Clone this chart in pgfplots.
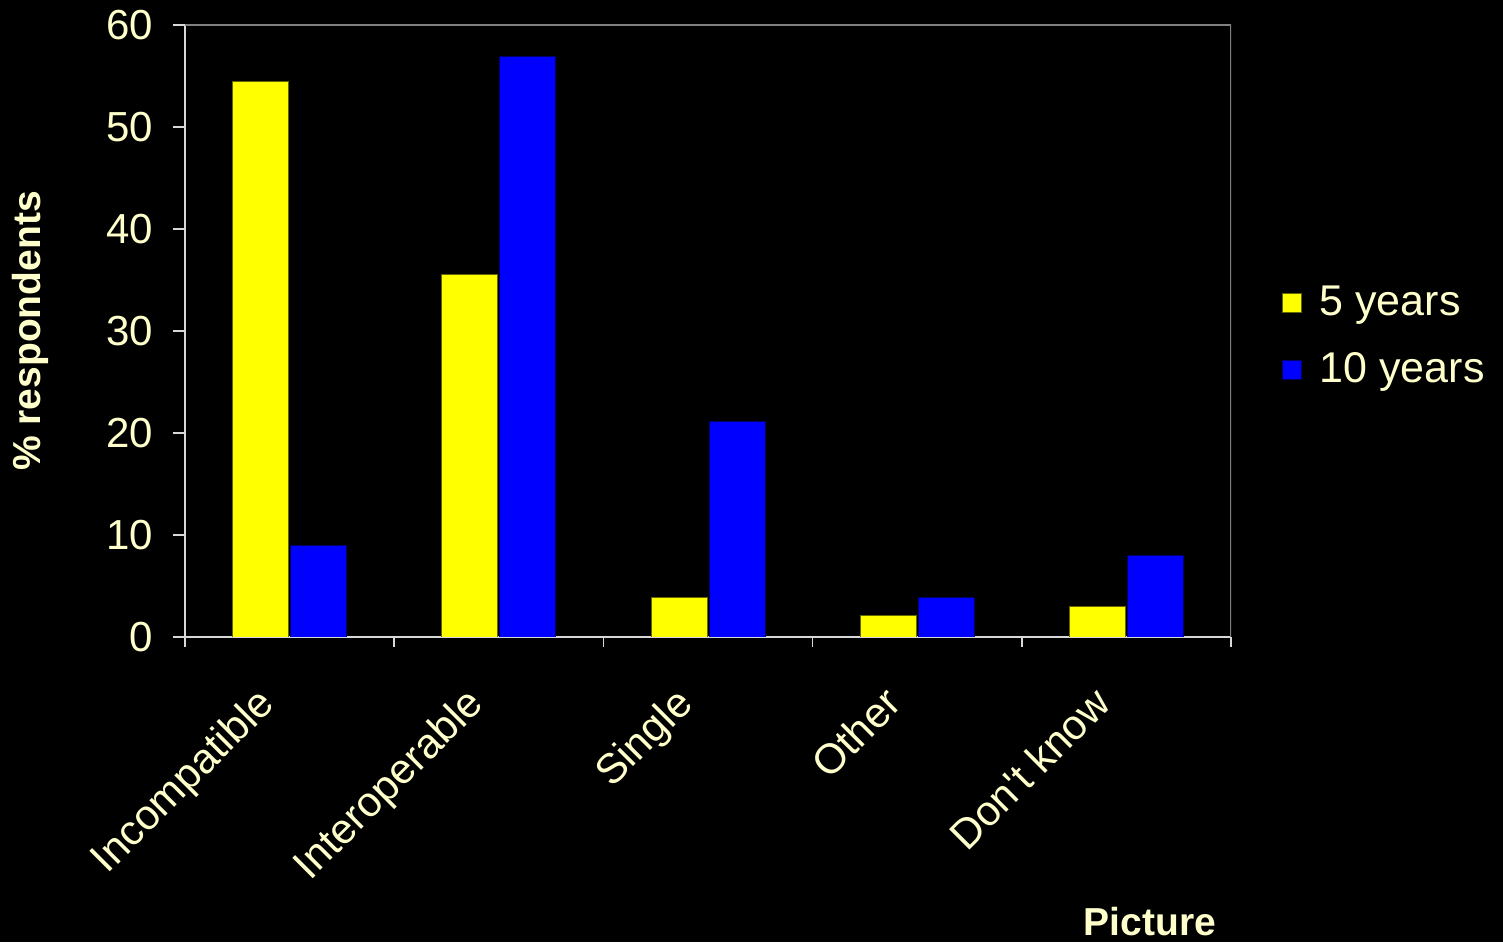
\documentclass[border=0pt]{standalone}
\usepackage{fontspec}
\setmainfont{Liberation Sans}
\newfontfamily\plainfont{Liberation Sans}[Ligatures=TeXOff]
\usepackage{pgfplots}
\pgfplotsset{compat=1.18}
\definecolor{txt}{HTML}{FFFFCC}
\definecolor{yel}{HTML}{FFFF00}
\definecolor{blu}{HTML}{0000FF}
\definecolor{axgray}{HTML}{808080}
\definecolor{axwhite}{HTML}{D8D8D8}
\begin{document}
\begin{tikzpicture}[x=1pt,y=1pt]
\fill[black] (0,0) rectangle (751.5,471);
\begin{axis}[
  at={(92.5pt,152.5pt)}, anchor=south west,
  scale only axis, width=523pt, height=306pt,
  ybar=1pt, bar width=28pt,
  xmin=-0.5, xmax=4.5, ymin=0, ymax=60,
  ytick={0,10,...,60},
  xtick={0,1,2,3,4},
  xticklabels={Incompatible,Interoperable,Single,Other,{\plainfont Don't know}},
  minor xtick={-0.5,0.5,...,4.5},
  major x tick style={draw=none},
  minor x tick style={axwhite, line width=0.8pt},
  minor tick length=5pt,
  major tick length=6pt,
  y tick style={axwhite, line width=0.8pt},
  tick align=outside,
  axis x line*=bottom, axis y line*=left,
  axis line style={axwhite, line width=0.9pt, -},
  /pgf/number format/assume math mode=true,
  ticklabel style={font=\fontsize{21}{25}\selectfont, text=txt},
  yticklabel style={xshift=-6.5pt},
  xticklabel style={rotate=45, anchor=north east, xshift=-21.4pt, yshift=3.3pt},
  ylabel={\textbf{\% respondents}},
  ylabel style={font=\fontsize{19.5}{23}\selectfont, text=txt, at={(rel axis cs:-0.148,0.5)}, anchor=center},
  xlabel={\textbf{Picture}},
  xlabel style={font=\fontsize{19.5}{23}\selectfont, text=txt, at={(rel axis cs:0.9226,-0.4657)}, anchor=center},
  legend style={draw=none, fill=none, text=txt, font=\fontsize{21.5}{25}\selectfont,
    at={(rel axis cs:1.0425,0.4915)}, anchor=west, row sep=13pt,
    legend cell align=left,
    /tikz/every odd column/.append style={column sep=7pt}},
  legend image code/.code={\fill[#1] (0pt,-4.75pt) rectangle (9.5pt,4.75pt);},
]
\addplot[fill=yel, draw=black!60!yel, line width=0.4pt] coordinates {(0,54.5) (1,35.5) (2,3.9) (3,2.1) (4,3.0)};
\addplot[fill=blu, draw=black!60!blu, line width=0.4pt] coordinates {(0,9.0) (1,56.9) (2,21.1) (3,3.9) (4,8.0)};
\legend{5 years,10 years}
\draw[axgray, line width=1.2pt] (rel axis cs:0,1) -- (rel axis cs:1,1) -- (rel axis cs:1,0);
\end{axis}
\end{tikzpicture}
\end{document}
